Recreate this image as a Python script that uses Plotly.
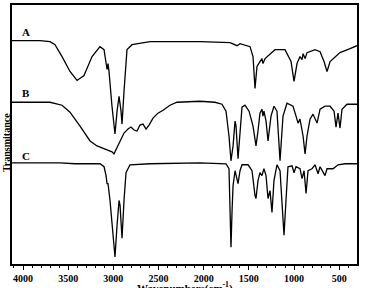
import plotly.graph_objects as go

# Trace A
wn_a = [4122, 3812, 3701, 3646, 3568, 3480, 3402, 3325, 3236, 3148, 3103, 3081, 3070, 3059, 3048,
        3015, 2982, 2959, 2937, 2915, 2904, 2882, 2849, 2793, 2594, 2041, 1708, 1631, 1598, 1487,
        1454, 1432, 1410, 1377, 1355, 1344, 1321, 1211, 1100, 1033, 1000, 967, 934, 911, 900, 878,
        856, 768, 712, 668, 635, 601, 491, 380, 303]
t_a = [225, 225, 224, 221, 209, 194, 185, 190, 209, 219, 216, 204, 196, 202, 194,
       159, 131, 154, 169, 154, 141, 174, 216, 221, 224, 224, 223, 220, 222, 219,
       209, 177, 199, 204, 207, 202, 207, 216, 216, 204, 184, 202, 209, 206, 212, 207,
       213, 216, 214, 204, 194, 204, 213, 217, 220]

# Trace B
wn_b = [4122, 3701, 3568, 3480, 3369, 3258, 3181, 3092, 3015, 2993, 2971, 2926, 2882, 2838, 2805,
        2771, 2738, 2705, 2672, 2638, 2605, 2561, 2506, 2450, 2373, 2295, 2041, 1875, 1797, 1753,
        1720, 1698, 1675, 1653, 1642, 1620, 1598, 1576, 1543, 1498, 1454, 1421, 1399, 1377, 1355,
        1344, 1333, 1310, 1288, 1255, 1222, 1189, 1155, 1122, 1078, 1011, 978, 956, 934, 900,
        878, 856, 823, 790, 745, 712, 657, 601, 557, 535, 513, 491, 469, 413, 303]
t_b = [163, 163, 160, 153, 139, 124, 119, 116, 113, 111, 115, 124, 132, 136, 138,
       135, 134, 140, 141, 136, 140, 147, 152, 155, 160, 163, 164, 163, 161, 154,
       129, 104, 119, 144, 139, 106, 134, 158, 160, 154, 139, 119, 134, 152, 156,
       149, 154, 144, 124, 149, 159, 154, 104, 149, 162, 159, 149, 142, 146, 129,
       111, 129, 146, 151, 142, 156, 159, 159, 154, 138, 152, 137, 156, 161, 161]

# Trace C
wn_c = [4122, 3590, 3424, 3148, 3103, 3081, 3070, 3059, 3037, 3004, 2982, 2959, 2937, 2926, 2904,
        2882, 2860, 2816, 2594, 2041, 1753, 1720, 1708, 1698, 1686, 1675, 1653, 1620, 1598, 1576,
        1509, 1465, 1432, 1421, 1399, 1377, 1355, 1333, 1310, 1288, 1266, 1244, 1222, 1189, 1155,
        1133, 1111, 1089, 1067, 1022, 1000, 978, 934, 911, 889, 867, 845, 801, 768, 734,
        712, 657, 635, 568, 513, 436, 303]
t_c = [102, 102, 101, 101, 98, 89, 81, 81, 64, 24, 7, 39, 64, 59, 26,
       64, 92, 100, 101, 102, 101, 96, 64, 17, 54, 79, 94, 81, 94, 100,
       100, 94, 69, 66, 84, 92, 89, 96, 89, 66, 74, 52, 84, 100, 94,
       64, 29, 64, 98, 99, 92, 98, 96, 86, 94, 71, 94, 96, 100, 91,
       98, 89, 96, 96, 100, 101, 101]

labels = ["A", "B", "C"]
label_y = [234, 172, 109]

x_ticks = [4000, 3500, 3000, 2500, 2000, 1500, 1000, 500]

SERIF = "Liberation Serif"

fig = go.Figure()
for wn, t in [(wn_a, t_a), (wn_b, t_b), (wn_c, t_c)]:
    fig.add_trace(go.Scatter(x=wn, y=t, mode="lines",
                             line=dict(color="black", width=1.3), showlegend=False))

for lab, ly in zip(labels, label_y):
    fig.add_annotation(x=0.022, xref="paper", y=ly, yref="y", text=lab, showarrow=False,
                       xanchor="left", yanchor="middle",
                       font=dict(family=SERIF, size=11, color="black", weight="bold"))

fig.add_annotation(x=-0.018, xref="paper", y=0.47, yref="paper", text="Transmitance",
                   showarrow=False, textangle=-90, xanchor="center", yanchor="middle",
                   font=dict(family=SERIF, size=10, color="black", weight="bold"))
fig.add_annotation(x=0.5, xref="paper", y=-0.09, yref="paper", text="Wavenumbers(cm<sup>-1</sup>)",
                   showarrow=False, xanchor="center", yanchor="middle",
                   font=dict(family=SERIF, size=11, color="black", weight="bold"))

fig.update_xaxes(range=[4122, 303], tickvals=x_ticks, ticktext=[str(v) for v in x_ticks],
                 ticks="outside", ticklen=4, tickwidth=1, tickcolor="black",
                 minor=dict(dtick=100, tick0=0, ticks="outside", ticklen=2, tickwidth=1, tickcolor="black"),
                 showline=True, linecolor="black", linewidth=1.5, mirror=True,
                 showgrid=False, zeroline=False,
                 tickfont=dict(family=SERIF, size=10, color="black", weight="bold"))
fig.update_yaxes(range=[0, 261], showticklabels=False, ticks="",
                 showline=True, linecolor="black", linewidth=1.5, mirror=True,
                 showgrid=False, zeroline=False)

fig.update_layout(width=365, height=288, margin=dict(l=12, r=8, t=3, b=24),
                  plot_bgcolor="white", paper_bgcolor="white")

fig.write_html("out.html")
